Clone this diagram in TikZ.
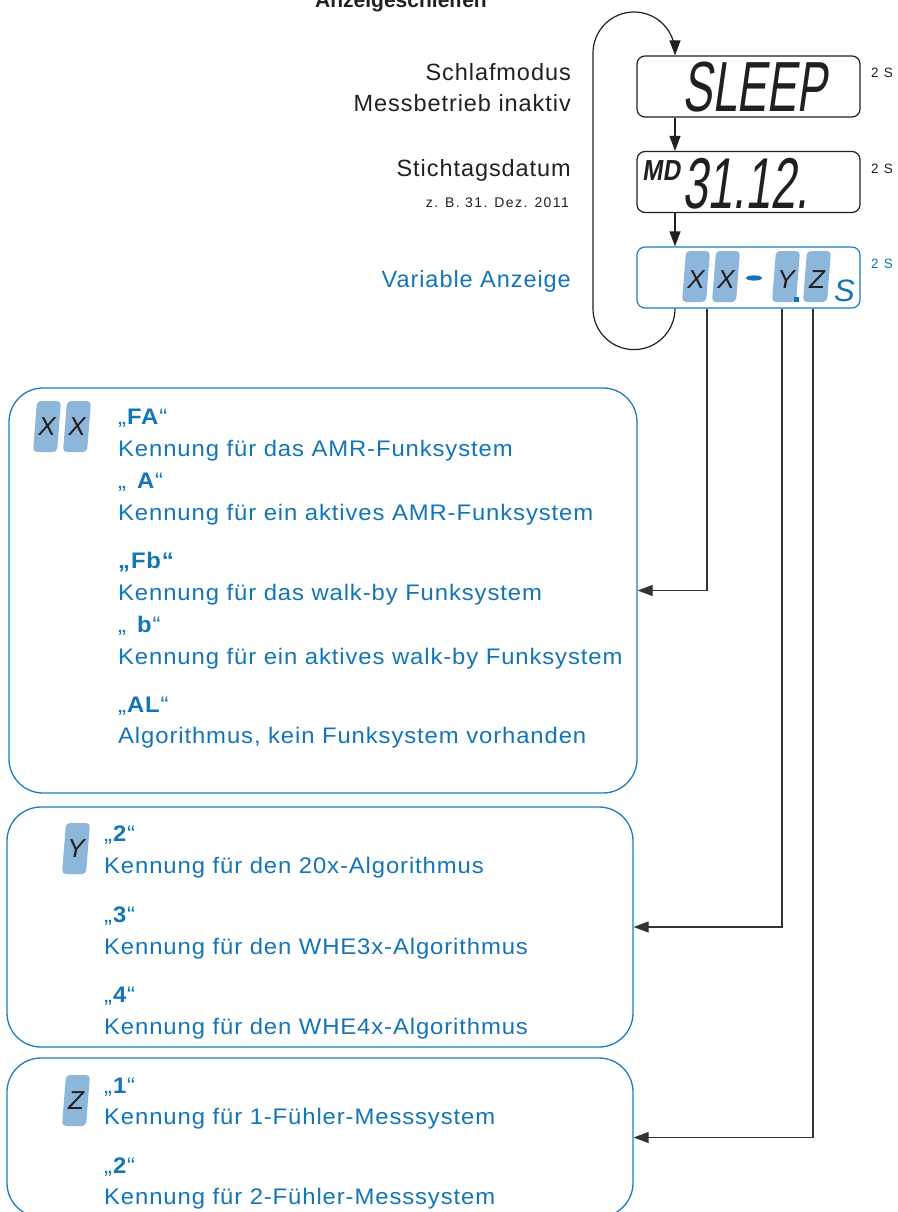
\documentclass[tikz,border=0pt]{standalone}
\usepackage{fontspec}
\setmainfont{Liberation Sans}
\usetikzlibrary{arrows.meta,calc}
\newfontfamily\bodyf[LetterSpace=4,FakeStretch=1.06]{Liberation Sans}
\newfontfamily\topf[LetterSpace=4]{Liberation Sans}
\newfontfamily\smallf[LetterSpace=10]{Liberation Sans}
\newfontfamily\lcdf[FakeStretch=0.63,FakeSlant=0.14]{Liberation Sans}
\newfontfamily\mdf[FakeStretch=0.84,FakeSlant=0.15]{Liberation Sans}
\definecolor{tblue}{HTML}{1275B6}
\definecolor{bblue}{HTML}{1C7CBF}
\definecolor{badgec}{HTML}{8DB6DB}
\definecolor{tdark}{HTML}{231F20}
\definecolor{conc}{HTML}{333333}
\tikzset{
  btxt/.style={anchor=base west, inner sep=0pt, text=tblue, font=\bodyf\fontsize{22.5}{26}\selectfont},
  sidetxt/.style={anchor=base east, inner sep=0pt, text=tdark, font=\topf\fontsize{23.5}{28}\selectfont},
  twos/.style={anchor=base west, inner sep=0pt, text=tdark, font=\smallf\fontsize{13.5}{15}\selectfont},
  lcdbox/.style={draw=tdark, line width=1.2pt, rounded corners=8pt, minimum width=223pt, minimum height=61pt, inner sep=0pt},
  infobox/.style={draw=bblue, line width=1.3pt, rounded corners=34pt, inner sep=0pt},
  lcdtxt/.style={anchor=base west, inner sep=0pt, text=tdark, font=\lcdf\fontsize{71}{71}\selectfont},
  bletter/.style={inner sep=0pt, text=tdark, font=\itshape\fontsize{26}{26}\selectfont},
  loopline/.style={draw=tdark, line width=1.2pt},
  arr/.style={-{Triangle[length=15pt,width=11pt]}},
  conn/.style={draw=conc, line width=1.1pt, -{Triangle[length=15pt,width=11pt]}},
}
\newcommand\mybadge[2]{\fill[badgec, rounded corners=4pt, shift={(#1,#2)}] (0,0) -- (4,-51) -- (28,-51) -- (24,0) -- cycle;}
\begin{document}
\begin{tikzpicture}[x=1pt,y=-1pt]
\useasboundingbox (0,0) rectangle (897,1212);
% title
\node[anchor=base, inner sep=0pt, text=tdark, font=\bfseries\fontsize{21}{21}\selectfont] (title) at (401,8) {Anzeigeschleifen};
% side texts
\node[sidetxt] (s1) at (571,81) {Schlafmodus};
\node[sidetxt] (s2) at (571,112) {Messbetrieb inaktiv};
\node[sidetxt] (s3) at (571,176) {Stichtagsdatum};
\node[sidetxt, font=\smallf\fontsize{14}{16}\selectfont] (s4) at (569,207) {z. B. 31. Dez. 2011};
\node[sidetxt, text=tblue] (s5) at (571,287) {Variable Anzeige};
% LCD boxes
\node[lcdbox] (sleep) at (748.5,86.5) {};
\node[lcdbox] (md) at (748.5,182) {};
\node[lcdbox, draw=bblue] (var) at (748.5,277.5) {};
\node[lcdtxt] (sleept) at (682,112) {SLEEP};
\node[anchor=base west, inner sep=0pt, text=tdark, font=\mdf\bfseries\fontsize{29}{29}\selectfont] (mdt) at (642,180) {MD};
\node[lcdtxt, font=\lcdf\fontsize{72}{72}\selectfont] (datet) at (682,208) {31.12.};
\node[twos] (z1) at (871,78) {2 S};
\node[twos] (z2) at (871,173) {2 S};
\node[twos, text=tblue] (z3) at (871,268) {2 S};
% variable display
\mybadge{682}{302}
\mybadge{712}{302}
\mybadge{772}{302}
\mybadge{803}{302}
\node[bletter] (vx1) at (696,280) {X};
\node[bletter] (vx2) at (726,280) {X};
\node[bletter] (vy) at (786,280) {Y};
\node[bletter] (vz) at (817,280) {Z};
\fill[tblue] (754,278) ellipse [x radius=8, y radius=2.6];
\fill[tblue] (794,297) rectangle (799,302);
\node[anchor=base west, inner sep=0pt, text=tblue, font=\itshape\fontsize{31}{31}\selectfont] (vs) at (834,301) {S};
% loop and arrows
\coordinate (a) at (675,0);
\coordinate (cx) at (707,0);
\coordinate (cy) at (782,0);
\coordinate (cz) at (813,0);
\draw[loopline, arr] (sleep.south -| a) -- (md.north -| a);
\draw[loopline, arr] (md.south -| a) -- (var.north -| a);
\draw[loopline, arr] (var.south -| a) arc[start angle=0, end angle=180, radius=41] -- (593,53) arc[start angle=180, end angle=360, radius=41] -- (sleep.north -| a);
% info boxes
\node[infobox, minimum width=628pt, minimum height=405pt] (box1) at (323,590.5) {};
\node[infobox, minimum width=626pt, minimum height=240pt] (box2) at (320,927) {};
\node[infobox, minimum width=626pt, minimum height=159pt] (box3) at (320,1137.5) {};
\draw[conn] (var.south -| cx) |- (box1.east);
\draw[conn] (var.south -| cy) |- (box2.east);
\draw[conn] (var.south -| cz) |- (box3.east);
% box1
\mybadge{33}{452}
\mybadge{63}{452}
\node[bletter] (bx1) at (47,427) {X};
\node[bletter] (bx2) at (77,427) {X};
\node[btxt] (l1) at (118,424) {„\textbf{FA}“};
\node[btxt] (k1) at (118,456) {Kennung für das AMR-Funksystem};
\node[btxt] (l2) at (118,488) {„\hspace{10pt}\textbf{A}“};
\node[btxt] (k2) at (118,520) {Kennung für ein aktives AMR-Funksystem};
\node[btxt] (l3) at (118,568) {\textbf{„Fb“}};
\node[btxt] (k3) at (118,600) {Kennung für das walk-by Funksystem};
\node[btxt] (l4) at (118,632) {„\hspace{10pt}\textbf{b}“};
\node[btxt] (k4) at (118,664) {Kennung für ein aktives walk-by Funksystem};
\node[btxt] (l5) at (118,712) {„\textbf{AL}“};
\node[btxt] (k5) at (118,743) {Algorithmus, kein Funksystem vorhanden};
% box2
\mybadge{62}{874}
\node[bletter] (by) at (76,849) {Y};
\node[btxt] (m1) at (104,841) {„\textbf{2}“};
\node[btxt] (n1) at (104,873) {Kennung für den 20x-Algorithmus};
\node[btxt] (m2) at (104,922) {„\textbf{3}“};
\node[btxt] (n2) at (104,954) {Kennung für den WHE3x-Algorithmus};
\node[btxt] (m3) at (104,1002) {„\textbf{4}“};
\node[btxt] (n3) at (104,1034) {Kennung für den WHE4x-Algorithmus};
% box3
\mybadge{62}{1126}
\node[bletter] (bz) at (76,1101) {Z};
\node[btxt] (p1) at (104,1093) {„\textbf{1}“};
\node[btxt] (q1) at (104,1124) {Kennung für 1-Fühler-Messsystem};
\node[btxt] (p2) at (104,1173) {„\textbf{2}“};
\node[btxt] (q2) at (104,1204) {Kennung für 2-Fühler-Messsystem};
\end{tikzpicture}
\end{document}
